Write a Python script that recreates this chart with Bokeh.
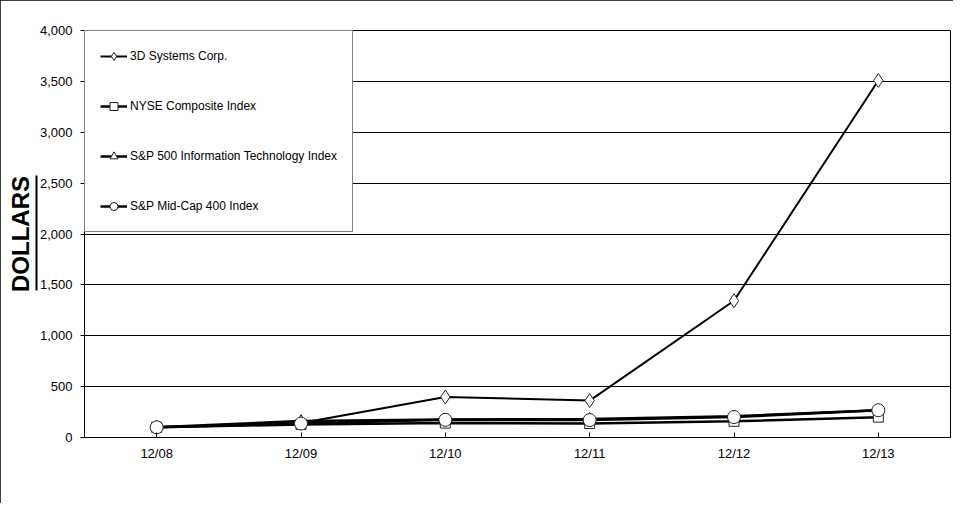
from bokeh.plotting import figure
from bokeh.models import (ColumnDataSource, FactorRange, Legend, LegendItem,
                          NumeralTickFormatter, FixedTicker, LinearAxis)
from bokeh.embed import file_html
from bokeh.resources import INLINE

# ---- data ----
years = ["12/08", "12/09", "12/10", "12/11", "12/12", "12/13"]
ddd = [100, 142, 398, 363, 1344, 3509]
nyse = [100, 128, 142, 137, 159, 200]
sp_it = [100, 162, 178, 182, 209, 268]
sp_mid = [100, 137, 174, 171, 201, 268]
series_names = ["3D Systems Corp.", "NYSE Composite Index",
                "S&P 500 Information Technology Index", "S&P Mid-Cap 400 Index"]
y_ticks = [0, 500, 1000, 1500, 2000, 2500, 3000, 3500, 4000]
y_label = "DOLLARS"
underline_span = (1445, 2575)

FONT = "Liberation Sans"

p = figure(x_range=FactorRange(*years, range_padding=0), y_range=(0, 4000),
           width=953, height=503, output_backend="svg", toolbar_location=None,
           min_border_left=84, min_border_right=3, min_border_top=30,
           min_border_bottom=66)
p.styles = {"outline": "1px solid black", "outline-offset": "-1px"}

src = ColumnDataSource(dict(x=years, ddd=ddd, nyse=nyse, it=sp_it, mid=sp_mid))

# lines
l1 = p.line("x", "ddd", source=src, line_color="black", line_width=2)
l2 = p.line("x", "nyse", source=src, line_color="black", line_width=2.5)
l3 = p.line("x", "it", source=src, line_color="black", line_width=2.5)
l4 = p.line("x", "mid", source=src, line_color="black", line_width=2.5)

# markers
m1 = p.scatter("x", "ddd", source=src, marker="diamond", size=14,
               fill_color="white", line_color="#222222", line_width=1)
m2 = p.scatter("x", "nyse", source=src, marker="square", size=10,
               fill_color="white", line_color="#222222", line_width=1)
m3 = p.scatter("x", "it", source=src, marker="triangle", size=11,
               fill_color="white", line_color="#222222", line_width=1)
m4 = p.scatter("x", "mid", source=src, marker="circle", size=13,
               fill_color="white", line_color="#222222", line_width=1)

# axes
p.yaxis.ticker = FixedTicker(ticks=y_ticks)
p.yaxis.formatter = NumeralTickFormatter(format="0,0")
p.yaxis.major_label_text_font = FONT
p.yaxis.major_label_text_font_size = "13px"
p.yaxis.major_label_text_color = "black"
p.yaxis.major_tick_in = 0
p.yaxis.major_tick_out = 4
p.yaxis.minor_tick_line_color = None
p.yaxis.major_label_standoff = 8
p.yaxis.axis_line_color = "black"

# second left axis: only an underline segment plus the "DOLLARS" label
ax2 = LinearAxis(ticker=FixedTicker(ticks=[]), bounds=underline_span,
                 axis_line_color="black", axis_line_width=2,
                 major_tick_in=0, major_tick_out=0,
                 minor_tick_in=0, minor_tick_out=0,
                 axis_label=y_label, axis_label_standoff=3,
                 axis_label_text_font=FONT,
                 axis_label_text_font_style="bold",
                 axis_label_text_font_size="24px",
                 axis_label_text_color="black")
p.add_layout(ax2, "left")

p.xaxis.major_label_text_font = FONT
p.xaxis.major_label_text_font_size = "13px"
p.xaxis.major_label_text_color = "black"
p.xaxis.major_tick_in = 5
p.xaxis.major_tick_out = 0
p.xaxis.major_label_standoff = 8
p.xaxis.axis_line_color = "black"

p.xgrid.grid_line_color = None
p.ygrid.grid_line_color = "black"
p.ygrid.grid_line_width = 1
p.outline_line_color = "black"
p.outline_line_width = 1

# legend
legend = Legend(items=[
    LegendItem(label=series_names[0], renderers=[l1, m1]),
    LegendItem(label=series_names[1], renderers=[l2, m2]),
    LegendItem(label=series_names[2], renderers=[l3, m3]),
    LegendItem(label=series_names[3], renderers=[l4, m4]),
], location="top_left")
legend.margin = 0
legend.padding = 15
legend.spacing = 30
legend.glyph_height = 20
legend.label_height = 20
legend.glyph_width = 27
legend.label_standoff = 3
legend.label_text_font = FONT
legend.label_text_font_size = "12px"
legend.label_text_color = "black"
legend.border_line_color = "black"
legend.border_line_width = 1
legend.background_fill_color = "white"
legend.background_fill_alpha = 1
p.add_layout(legend, "center")

open("out.html", "w").write(file_html(p, INLINE))
